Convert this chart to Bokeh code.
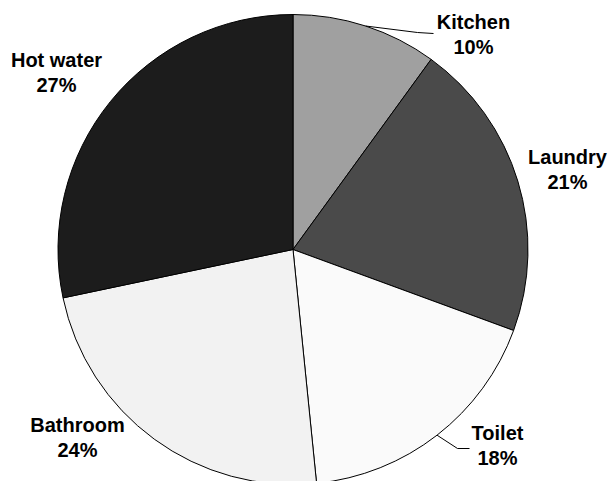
import numpy as np
from bokeh.plotting import figure
from bokeh.models import Range1d, ColumnDataSource
from bokeh.core.properties import value
from bokeh.embed import file_html
from bokeh.resources import INLINE

# ---- data ----
categories = ["Kitchen", "Laundry", "Toilet", "Bathroom", "Hot water"]
shares = [10.0, 20.6, 17.8, 23.3, 28.3]
pct_labels = ["10%", "21%", "18%", "24%", "27%"]
colors = ["#a0a0a0", "#4a4a4a", "#fafafa", "#f2f2f2", "#1c1c1c"]

# ---- layout (screen pixel coordinates of the page) ----
W, H = 609, 481
cx, cy, R = 292.5, 249.0, 235.0
# label centre x and first-line baseline y (screen px)
label_pos = [(473, 21), (567, 156), (497, 432), (77, 424), (56, 59)]
line_gap = 25
# leader lines: (elbow, end) for labels that have them
leaders = {0: [(417, 32), (433, 33)], 2: [(457, 448), (469, 448)]}

p = figure(width=W, height=H, output_backend="svg", toolbar_location=None,
           x_range=Range1d(0, W), y_range=Range1d(-H, 0),
           x_axis_type=None, y_axis_type=None, min_border=0,
           outline_line_color=None, background_fill_color="white",
           border_fill_color="white")
p.grid.visible = False

vals = np.array(shares, dtype=float)
frac = vals / vals.sum()
end_cw = np.cumsum(frac) * 360.0
start_cw = end_cw - frac * 360.0
src = ColumnDataSource(dict(
    cat=categories,
    start=np.deg2rad(90.0 - end_cw),
    end=np.deg2rad(90.0 - start_cw),
    color=colors,
))
p.wedge(x=cx, y=-cy, radius=R, start_angle="start", end_angle="end",
        fill_color="color", line_color="black",
        line_width=1, source=src)

# leader lines
mid = (start_cw + end_cw) / 2.0
for i, pts in leaders.items():
    a = np.deg2rad(mid[i])
    sx = cx + R * np.sin(a)
    sy = cy - R * np.cos(a)
    xs = [sx] + [q[0] for q in pts]
    ys = [-sy] + [-q[1] for q in pts]
    p.line(xs, ys, line_color="black", line_width=1)

# labels
tx, ty, tt = [], [], []
for (lx, ly), name, pct in zip(label_pos, categories, pct_labels):
    tx += [lx, lx]
    ty += [-ly, -(ly + line_gap)]
    tt += [name, pct]
p.text(x=tx, y=ty, text=tt, text_align="center", text_baseline="alphabetic",
       text_font=value("Liberation Sans"), text_font_style="bold",
       text_font_size="20px", text_color="black")

open("out.html", "w").write(file_html(p, INLINE))
